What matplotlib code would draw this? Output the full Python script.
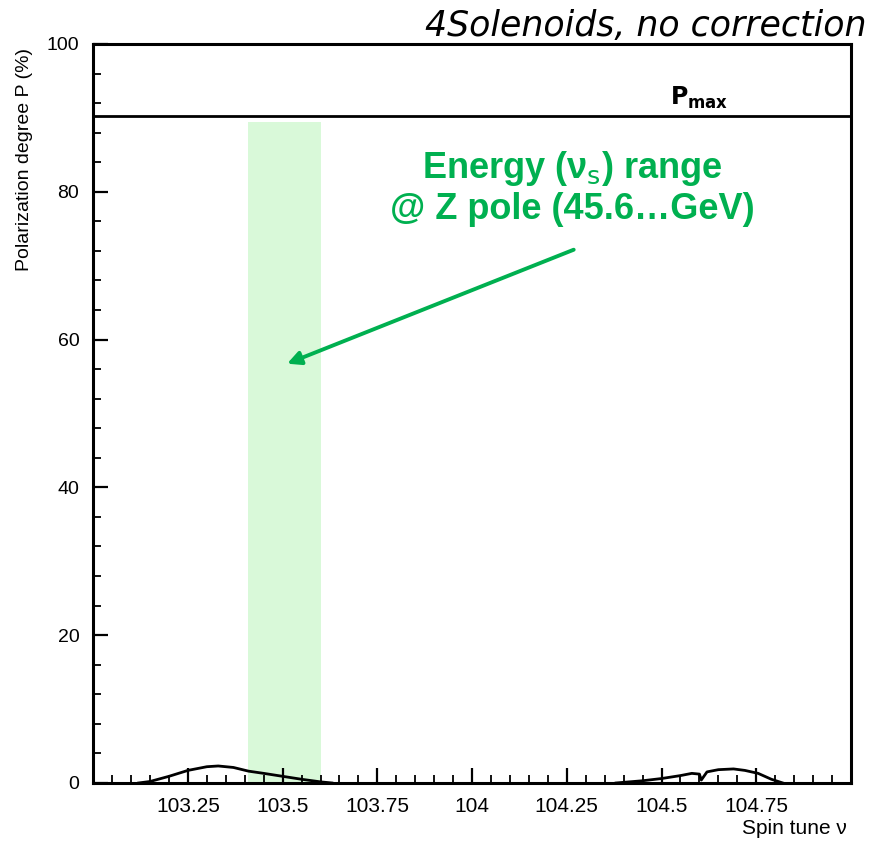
import numpy as np
import matplotlib.pyplot as plt
from matplotlib.ticker import MultipleLocator, FixedLocator

# spin tune scan, polarization in percent
nu_low = [103.12, 103.15, 103.20, 103.25, 103.30, 103.33, 103.37, 103.41,
          103.45, 103.50, 103.55, 103.60, 103.63]
pol_low = [0.0, 0.2, 0.9, 1.7, 2.2, 2.3, 2.1, 1.6, 1.3, 0.9, 0.5, 0.15, 0.0]

nu_high = [104.38, 104.45, 104.50, 104.55, 104.58, 104.60, 104.605, 104.62,
           104.65, 104.69, 104.72, 104.755, 104.79, 104.82]
pol_high = [0.0, 0.3, 0.6, 1.0, 1.3, 1.2, 0.4, 1.5, 1.8, 1.9, 1.7, 1.3, 0.5, 0.0]

p_max = 90.3
z_range = (103.408, 103.60)
z_band_top = 89.4

x_ticks = [103.25, 103.5, 103.75, 104.0, 104.25, 104.5, 104.75]
x_labels = ['103.25', '103.5', '103.75', '104', '104.25', '104.5', '104.75']
y_ticks = [0, 20, 40, 60, 80, 100]

green = '#00b050'

plt.rcParams['font.family'] = ['Liberation Sans', 'DejaVu Sans']

fig = plt.figure(figsize=(8.71, 8.46), dpi=100)
ax = fig.add_axes([0.107, 0.0745, 0.870, 0.8735])

ax.set_xlim(103.0, 105.0)
ax.set_ylim(0, 100)

# Z pole energy window
ax.fill_between(z_range, 0, z_band_top, color='#d9f9d9', lw=0, zorder=0)

ax.axhline(p_max, color='black', lw=2.0)
ax.plot(nu_low, pol_low, color='black', lw=2.0)
ax.plot(nu_high, pol_high, color='black', lw=2.0)

for s in ax.spines.values():
    s.set_linewidth(2.2)

ax.xaxis.set_major_locator(FixedLocator(x_ticks))
ax.set_xticklabels(x_labels)
ax.xaxis.set_minor_locator(MultipleLocator(0.05))
ax.yaxis.set_major_locator(FixedLocator(y_ticks))
ax.yaxis.set_minor_locator(MultipleLocator(4))
ax.tick_params(which='major', direction='in', length=11, width=1.6,
               labelsize=15, pad=10)
ax.tick_params(axis='y', which='major', labelsize=14)
ax.tick_params(which='minor', direction='in', length=6, width=1.3)
ax.tick_params(axis='x', which='both', top=False)
ax.tick_params(axis='y', which='both', right=False)

fig.text(0.028, 0.811, 'Polarization degree P (%)', rotation=90,
         ha='center', va='center', fontsize=14)
fig.text(0.972, 0.01, 'Spin tune \u03bd', ha='right', va='bottom',
         fontsize=15)

fig.text(0.995, 0.957, '4Solenoids, no correction', ha='right',
         va='baseline', fontsize=25, style='italic', family='DejaVu Sans')
ax.text(104.6, p_max + 0.6, r'$\mathbf{P_{max}}$', ha='center',
        va='bottom', fontsize=17)

ax.text(104.265, 75.3, 'Energy (\u03bd$_\\mathrm{s}$) range\n@ Z pole (45.6\u2026GeV)',
        ha='center', va='bottom', color=green, fontsize=26,
        fontweight='bold', linespacing=1.12)
ax.annotate('', xy=(103.505, 56.6), xytext=(104.275, 72.3),
            arrowprops=dict(arrowstyle='-|>', color=green, lw=2.8,
                            mutation_scale=20))

fig.savefig('out.png', dpi=100)
